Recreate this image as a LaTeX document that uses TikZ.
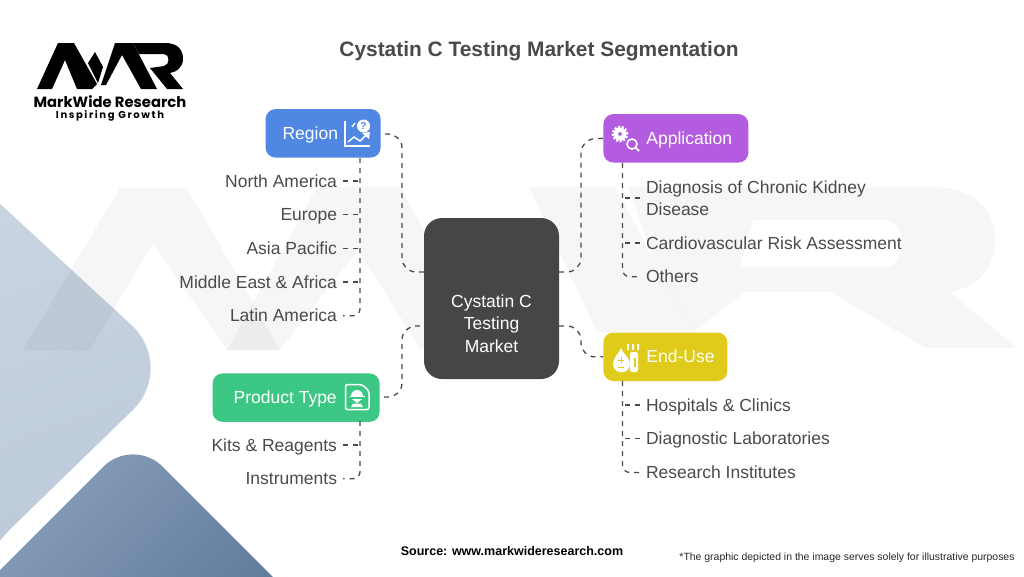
\documentclass[tikz,border=0pt]{standalone}
\usepackage{fontspec}
\setmainfont{Liberation Sans}
\newfontfamily\logofont{Poppins}
\usetikzlibrary{positioning}
\definecolor{ink}{HTML}{4A4A4A}
\definecolor{hubgrey}{HTML}{464646}
\definecolor{regionblue}{HTML}{4F87E3}
\definecolor{apppurple}{HTML}{B45CE0}
\definecolor{prodgreen}{HTML}{3CC785}
\definecolor{useyellow}{HTML}{E0CB1A}
\definecolor{palelight}{HTML}{C9D4E0}
\definecolor{palemid}{HTML}{BBC9D9}
\definecolor{slatelight}{HTML}{8EA3BE}
\definecolor{slatedark}{HTML}{5B7698}
\tikzset{
	catbox/.style={rectangle, rounded corners=10pt, inner sep=0pt, minimum height=48.5pt},
	catlabel/.style={text=white, font=\fontsize{17.5}{21}\selectfont, inner sep=0pt, text height=15pt, text depth=3pt},
	leaf/.style={text=ink, font=\fontsize{17.5}{22.5}\selectfont, inner sep=0pt, outer xsep=6pt, outer ysep=0pt, text height=15pt, text depth=3pt},
	link/.style={draw=ink, line width=1.3pt, dash pattern=on 5pt off 5pt},
	lastlink/.style={link, rounded corners=7pt},
	mainlink/.style={link, rounded corners=14pt},
}
\begin{document}
\begin{tikzpicture}[x=1pt, y=-1pt, node distance=10pt]
	\useasboundingbox (0,0) rectangle (1024,576);
	\clip (0,0) rectangle (1024,576);

	% backdrop
	\path[left color=palelight, right color=palemid, shading angle=20] (-40,167) [rounded corners=62pt] -- (177,367) [rounded corners=20pt] -- (-2,541) -- (-40,600) -- cycle;
	\path[left color=slatelight, right color=slatedark, shading angle=45, rounded corners=42pt] (-60,630) -- (133,437) -- (340,644) -- cycle;

	% watermark
	\begin{scope}[fill=black, fill opacity=0.035]
		\fill (23,350) -- (120,188) -- (187,188) -- (280,350) -- (227,350) -- (153,243) -- (90,350) -- cycle;
		\fill (227,350) -- (317,187) -- (400,187) -- (490,348) -- (420,348) -- (358,250) -- (280,350) -- cycle;
		\fill (529,187) -- (615,187) -- (693,332) -- (597,332) -- cycle;
		\fill[even odd rule] (628,187) -- (930,187) .. controls (975,187) and (995,210) .. (995,240) .. controls (995,270) and (975,288) .. (950,292) -- (1017,348) -- (926,348) -- (830,292) -- (745,292) -- (693,332) -- (655,262) -- cycle
			(753,220) -- (885,220) .. controls (908,222) and (908,265) .. (885,267) -- (740,267) -- cycle;
	\end{scope}

	% logo
	\fill[black] (37,89) -- (58,43) -- (74,43) -- (97,84) -- (92,89) -- (77,89) -- (65,60) -- (52,89) -- cycle;
	\fill[black] (95,52) -- (103,67) -- (98,83) -- (88,63) -- cycle;
	\fill[black] (101,85) -- (115,43) -- (133,43) -- (157,89) -- (141,89) -- (122,55) -- (106,85) -- cycle;
	\fill[black] (133,43) -- (165,43) .. controls (180,43) and (183,52) .. (183,59) .. controls (183,67) and (177,72) .. (170,73) -- (183,89) -- (167,89) -- (150,68) -- (164,66) .. controls (170,65) and (170,54) .. (164,54) -- (139,54) -- cycle;
	\node[inner sep=0pt, text height=10pt, text depth=0pt, font=\logofont\bfseries\fontsize{14.8}{16}\selectfont] (logoname) at (110,102) {MarkWide Research};
	\node[inner sep=0pt, text height=7pt, text depth=0pt, font=\logofont\bfseries\fontsize{10}{12}\selectfont\addfontfeatures{LetterSpace=16}] (logotag) at (110,114.5) {Inspiring Growth};

	\node[text=ink, inner sep=0pt, font=\bfseries\fontsize{20.9}{26}\selectfont] (title) at (539,51) {Cystatin C Testing Market Segmentation};

	% hub
	\node[rectangle, fill=hubgrey, rounded corners=18pt, minimum width=135pt, minimum height=161pt] (market) at (491.5,298.5) {};
	\node[text=white, align=center, inner sep=0pt, font=\fontsize{17.5}{22.5}\selectfont, below = -4pt of market.center] (market-label) {Cystatin C\\Testing\\Market};

	% category boxes
	\node[catbox, fill=regionblue, minimum width=115pt, above left = 60pt and 43pt of market.north west] (region) {};
	\node[catbox, fill=apppurple, minimum width=145pt, above right = 55pt and 44pt of market.north east] (application) {};
	\node[catbox, fill=prodgreen, minimum width=167pt, below left = -6pt and 44pt of market.south west] (product) {};
	\node[catbox, fill=useyellow, minimum width=124pt, above right = -2pt and 44pt of market.south east] (enduse) {};

	\node[catlabel, right = 17pt of region.west] (region-label) {Region};
	\node[catlabel, right = 43pt of application.west] (application-label) {Application};
	\node[catlabel, right = 21pt of product.west] (product-label) {Product Type};
	\node[catlabel, right = 43pt of enduse.west] (enduse-label) {End-Use};

	% left leaves
	\node[leaf, anchor=east] (na) at (343,181) {North America};
	\node[leaf, below left = 15.7pt and 0pt of na.south east] (eu) {Europe};
	\node[leaf, below left = 15.7pt and 0pt of eu.south east] (ap) {Asia Pacific};
	\node[leaf, below left = 15.7pt and 0pt of ap.south east] (mea) {Middle East \& Africa};
	\node[leaf, below left = 15.7pt and 0pt of mea.south east] (la) {Latin America};

	\node[leaf, anchor=east] (kits) at (343,445) {Kits \& Reagents};
	\node[leaf, below left = 15.7pt and 0pt of kits.south east] (inst) {Instruments};

	% right leaves
	\node[leaf, anchor=west, align=left, text height=, text depth=] (ckd) at (640,198) {Diagnosis of Chronic Kidney\\Disease};
	\node[leaf, anchor=west] (cvd) at (640,243) {Cardiovascular Risk Assessment};
	\node[leaf, below right = 15.7pt and 0pt of cvd.south west] (others) {Others};

	\node[leaf, anchor=west] (hosp) at (640,405) {Hospitals \& Clinics};
	\node[leaf, below right = 15.7pt and 0pt of hosp.south west] (lab) {Diagnostic Laboratories};
	\node[leaf, below right = 15.7pt and 0pt of lab.south west] (res) {Research Institutes};

	% hub connectors
	\coordinate (region-out) at (385,134);
	\coordinate (product-out) at (384,397);
	\coordinate (hub-nw) at (market.west |- 0,272);
	\coordinate (hub-ne) at (market.east |- 0,272);
	\coordinate (hub-sw) at (market.west |- 0,326);
	\coordinate (hub-se) at (market.east |- 0,326);
	\draw[mainlink] (region-out) -- (402,134) -- (402,272) -- (hub-nw);
	\draw[mainlink] (hub-ne) -- (581,272) -- (581,139) -- (application.west);
	\draw[mainlink] (product-out) -- (402,397) -- (402,326) -- (hub-sw);
	\draw[mainlink] (hub-se) -- (581,326) -- (581,357) -- (enduse.west);

	% leaf connectors
	\coordinate (region-trunk) at (360,158);
	\coordinate (product-trunk) at (360,421);
	\coordinate (application-trunk) at (622.5,163);
	\coordinate (enduse-trunk) at (622.5,381);
	\draw[lastlink] (region-trunk) |- (la);
	\draw[link] (na) -- (na -| region-trunk);
	\draw[link] (eu) -- (eu -| region-trunk);
	\draw[link] (ap) -- (ap -| region-trunk);
	\draw[link] (mea) -- (mea -| region-trunk);
	\draw[lastlink] (product-trunk) |- (inst);
	\draw[link] (kits) -- (kits -| product-trunk);
	\draw[lastlink] (application-trunk) |- (others);
	\draw[link] (ckd) -- (ckd -| application-trunk);
	\draw[link] (cvd) -- (cvd -| application-trunk);
	\draw[lastlink] (enduse-trunk) |- (res);
	\draw[link] (hosp) -- (hosp -| enduse-trunk);
	\draw[link] (lab) -- (lab -| enduse-trunk);

	% icons
	\begin{scope}[draw=white, line width=1.4pt]
		\draw (345,121) -- (345,146) -- (370,146);
		\draw (352,127) -- (355,123);
		\draw (348,142) -- (354,137) -- (360,141) -- (366,135);
		\fill[white] (370,132) -- (362,133) -- (369,139) -- cycle;
		\fill[white] (363.5,126) circle (6.5pt);
		\node[text=regionblue, inner sep=0pt, font=\bfseries\fontsize{10}{10}\selectfont] (region-mark) at (363.5,126) {?};
	\end{scope}
	\begin{scope}[draw=white]
		\draw[line width=2.6pt, dash pattern=on 2pt off 1.6pt] (620,134) circle (7pt);
		\fill[white, even odd rule] (620,134) circle (6.5pt) (620,134) circle (2pt);
		\draw[line width=1.6pt, fill=apppurple] (632,144) circle (5pt);
		\draw[line width=1.8pt] (635.5,147.5) -- (639,151);
	\end{scope}
	\begin{scope}[draw=white]
		\draw[line width=1.5pt, rounded corners=2pt] (345.5,384.5) -- (362,384.5) -- (369,391) -- (369,409.5) -- (345.5,409.5) -- cycle;
		\fill[white] (351,396) arc[start angle=180, end angle=0, radius=6pt] -- cycle;
		\draw[line width=1.2pt] (349.5,396.5) -- (364.5,396.5);
		\fill[white] (352,399) -- (362,399) -- (357,403) -- cycle;
		\fill[white] (351,407) -- (353,403.5) -- (361,403.5) -- (363,407) -- cycle;
	\end{scope}
	\begin{scope}[draw=white]
		\fill[white] (621,348) .. controls (624,355) and (630,358) .. (630,364) .. controls (630,375) and (613,375) .. (613,364) .. controls (613,358) and (618,355) .. (621,348) -- cycle;
		\draw[useyellow, line width=1pt] (618,360) -- (624,360) (621,357) -- (621,363) (618,367) -- (624,367);
		\fill[white] (627,344) rectangle (629,350) (632,344) rectangle (634,350) (637,344) rectangle (639,350);
		\fill[white, rounded corners=2pt] (630,352) rectangle (638,372);
		\fill[useyellow] (634,358) rectangle (636,367);
	\end{scope}

	% footer
	\node[inner sep=0pt, font=\bfseries\fontsize{12.5}{15}\selectfont] (source) at (512,551) {Source: www.markwideresearch.com};
	\node[inner sep=0pt, text=black!85, font=\fontsize{10.45}{13}\selectfont] (disclaimer) at (847,558) {*The graphic depicted in the image serves solely for illustrative purposes};
\end{tikzpicture}
\end{document}
